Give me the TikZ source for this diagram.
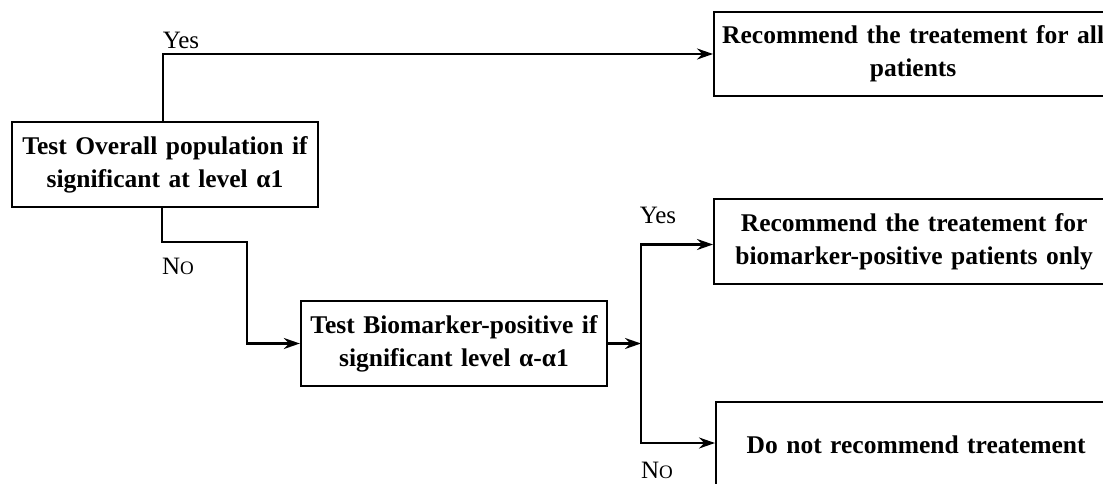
\documentclass[tikz,border=0pt]{standalone}
\usepackage{fontspec}
\setmainfont{Liberation Serif}
\usetikzlibrary{arrows.meta}
\tikzset{
  box/.style={draw, line width=2.3pt, fill=white, inner sep=4pt, align=center,
    font=\fontsize{25.5}{33}\selectfont\bfseries},
  arr/.style={line width=2.3pt, -{Stealth[length=16pt,width=11pt]}},
  lbl/.style={inner sep=0pt, font=\fontsize{25}{28}\selectfont}
}
\newcommand{\smcapNo}{N{\fontsize{19}{19}\selectfont O}}
\begin{document}
\begin{tikzpicture}[x=1pt,y=-1pt]
\useasboundingbox (0,0) rectangle (1103,484);
\node[box, minimum width=306pt, minimum height=85pt, text width=298pt] (b1) at (165,164.5)
  {Test Overall population if\\significant at level α1};
\node[box, anchor=west, minimum width=394pt, minimum height=84pt, text width=390pt] (b2) at (713,54)
  {Recommend the treatement for all\\patients};
\node[box, minimum width=306pt, minimum height=85pt, text width=298pt] (b3) at (454,343.5)
  {Test Biomarker-positive if\\significant level α-α1};
\node[box, anchor=west, minimum width=400pt, minimum height=85pt, text width=392pt] (b4) at (713,241.5)
  {Recommend the treatement for\\biomarker-positive patients only};
\node[box, anchor=west, minimum width=400pt, minimum height=86pt, text width=392pt] (b5) at (715,445)
  {Do not recommend treatement};
\coordinate (n1) at (247,242);
\coordinate (j) at (641,343.5);
\draw[arr] ([xshift=-2pt]b1.north) |- (b2.west);
\draw[arr] ([xshift=-3pt]b1.south) |- (n1) |- (b3.west);
\draw[arr] (b3.east) -- (j);
\draw[arr] (j) |- ([yshift=-3pt]b4.west);
\draw[arr] (j) |- ([yshift=2pt]b5.west);
\node[lbl] (yes1) at (181,40) {Yes};
\node[lbl] (no1) at (178,266) {\smcapNo};
\node[lbl] (yes2) at (658,215) {Yes};
\node[lbl] (no2) at (657,470) {\smcapNo};
\end{tikzpicture}
\end{document}
